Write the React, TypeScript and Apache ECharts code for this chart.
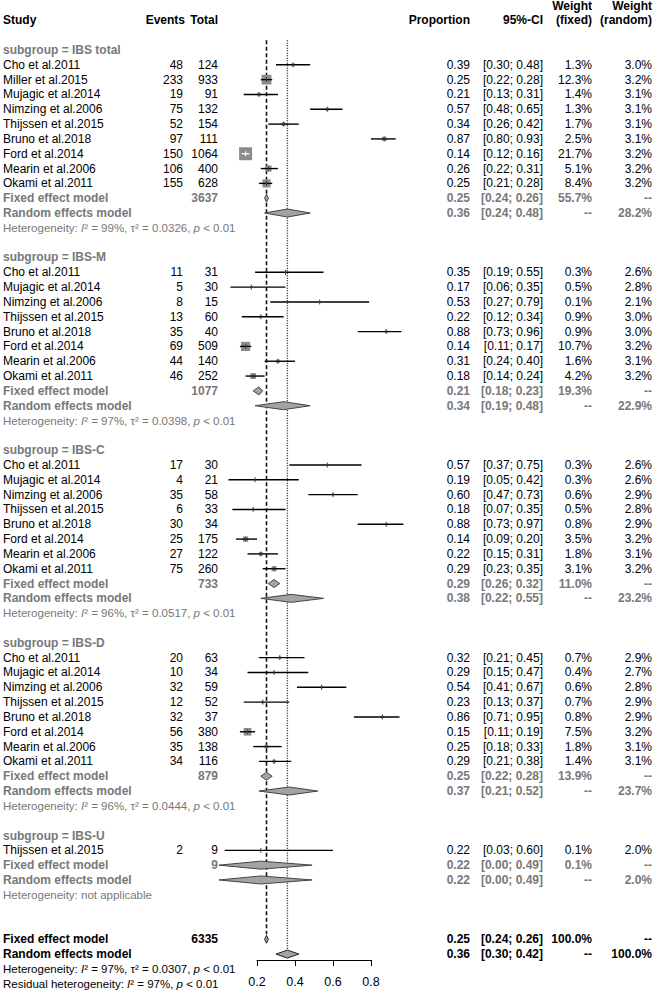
import React, { useEffect, useRef } from "react";
import * as echarts from "echarts";

// ---------------- data ----------------
const subgroupNames = ["IBS total", "IBS-M", "IBS-C", "IBS-D", "IBS-U"];

const studiesAll = ["Cho et al.2011", "Miller et al.2015", "Mujagic et al.2014", "Nimzing et al.2006", "Thijssen et al.2015", "Bruno et al.2018", "Ford et al.2014", "Mearin et al.2006", "Okami et al.2011"];
const studiesSub = ["Cho et al.2011", "Mujagic et al.2014", "Nimzing et al.2006", "Thijssen et al.2015", "Bruno et al.2018", "Ford et al.2014", "Mearin et al.2006", "Okami et al.2011"];
const studiesU = ["Thijssen et al.2015"];

// IBS total
const eventsT = [48, 233, 19, 75, 52, 97, 150, 106, 155];
const totalT = [124, 933, 91, 132, 154, 111, 1064, 400, 628];
const propT = [0.39, 0.25, 0.21, 0.57, 0.34, 0.87, 0.14, 0.26, 0.25];
const loT = [0.30, 0.22, 0.13, 0.48, 0.26, 0.80, 0.12, 0.22, 0.21];
const hiT = [0.48, 0.28, 0.31, 0.65, 0.42, 0.93, 0.16, 0.31, 0.28];
const wfT = [1.3, 12.3, 1.4, 1.3, 1.7, 2.5, 21.7, 5.1, 8.4];
const wrT = [3.0, 3.2, 3.1, 3.1, 3.1, 3.1, 3.2, 3.2, 3.2];

// IBS-M
const eventsM = [11, 5, 8, 13, 35, 69, 44, 46];
const totalM = [31, 30, 15, 60, 40, 509, 140, 252];
const propM = [0.35, 0.17, 0.53, 0.22, 0.88, 0.14, 0.31, 0.18];
const loM = [0.19, 0.06, 0.27, 0.12, 0.73, 0.11, 0.24, 0.14];
const hiM = [0.55, 0.35, 0.79, 0.34, 0.96, 0.17, 0.40, 0.24];
const wfM = [0.3, 0.5, 0.1, 0.9, 0.9, 10.7, 1.6, 4.2];
const wrM = [2.6, 2.8, 2.1, 3.0, 3.0, 3.2, 3.1, 3.2];

// IBS-C
const eventsC = [17, 4, 35, 6, 30, 25, 27, 75];
const totalC = [30, 21, 58, 33, 34, 175, 122, 260];
const propC = [0.57, 0.19, 0.60, 0.18, 0.88, 0.14, 0.22, 0.29];
const loC = [0.37, 0.05, 0.47, 0.07, 0.73, 0.09, 0.15, 0.23];
const hiC = [0.75, 0.42, 0.73, 0.35, 0.97, 0.20, 0.31, 0.35];
const wfC = [0.3, 0.3, 0.6, 0.5, 0.8, 3.5, 1.8, 3.1];
const wrC = [2.6, 2.6, 2.9, 2.8, 2.9, 3.2, 3.1, 3.2];

// IBS-D
const eventsD = [20, 10, 32, 12, 32, 56, 35, 34];
const totalD = [63, 34, 59, 52, 37, 380, 138, 116];
const propD = [0.32, 0.29, 0.54, 0.23, 0.86, 0.15, 0.25, 0.29];
const loD = [0.21, 0.15, 0.41, 0.13, 0.71, 0.11, 0.18, 0.21];
const hiD = [0.45, 0.47, 0.67, 0.37, 0.95, 0.19, 0.33, 0.38];
const wfD = [0.7, 0.4, 0.6, 0.7, 0.8, 7.5, 1.8, 1.4];
const wrD = [2.9, 2.7, 2.8, 2.9, 2.9, 3.2, 3.1, 3.1];

// IBS-U
const eventsU = [2];
const totalU = [9];
const propU = [0.22];
const loU = [0.03];
const hiU = [0.60];
const wfU = [0.1];
const wrU = [2.0];

// subgroup summaries
const fixedN = [3637, 1077, 733, 879, 9];
const fixedEst = [0.25, 0.21, 0.29, 0.25, 0.22];
const fixedLo = [0.24, 0.18, 0.26, 0.22, 0.00];
const fixedHi = [0.26, 0.23, 0.32, 0.28, 0.49];
const fixedW = [55.7, 19.3, 11.0, 13.9, 0.1];
const randEst = [0.36, 0.34, 0.38, 0.37, 0.22];
const randLo = [0.24, 0.19, 0.22, 0.21, 0.00];
const randHi = [0.48, 0.48, 0.55, 0.52, 0.49];
const randW = [28.2, 22.9, 23.2, 23.7, 2.0];
const hetI2 = ["99%", "97%", "96%", "96%", ""];
const hetTau2 = ["0.0326", "0.0398", "0.0517", "0.0444", ""];

// overall
const overallN = 6335;
const overallFixed = [0.25, 0.24, 0.26];
const overallRandom = [0.36, 0.30, 0.42];
const overallI2 = "97%";
const overallTau2 = "0.0307";
const residualI2 = "97%";

const xTicks = [0.2, 0.4, 0.6, 0.8];

// ---------------- layout / style ----------------
const FONT = "'Liberation Sans', Arial, Helvetica, sans-serif";
const GRAY = "#787878";
const COL = { study: 3, events: 183, total: 218, prop: 470, ci: 543, wf: 592, wr: 652 };
const HET_SIZE = 11.5;

type TextItem = { row: number; x: number; text: string; align: string; color: string; bold?: boolean; size?: number; rich?: boolean };

const groups = [
  { names: studiesAll, ev: eventsT, n: totalT, p: propT, lo: loT, hi: hiT, wf: wfT, wr: wrT },
  { names: studiesSub, ev: eventsM, n: totalM, p: propM, lo: loM, hi: hiM, wf: wfM, wr: wrM },
  { names: studiesSub, ev: eventsC, n: totalC, p: propC, lo: loC, hi: hiC, wf: wfC, wr: wrC },
  { names: studiesSub, ev: eventsD, n: totalD, p: propD, lo: loD, hi: hiD, wf: wfD, wr: wrD },
  { names: studiesU, ev: eventsU, n: totalU, p: propU, lo: loU, hi: hiU, wf: wfU, wr: wrU },
];

const f2 = (v: number) => v.toFixed(2);
const ci = (a: number, b: number) => `[${f2(a)}; ${f2(b)}]`;
const pct = (v: number) => `${v.toFixed(1)}%`;

const texts: TextItem[] = [];
const studyMarks: number[][] = []; // [est,row,lo,hi,wf]
const diamonds: number[][] = []; // [est,row,lo,hi,kind]

function addText(row: number, x: number, text: string, align: string, color = "#000", bold = false, size = 12, rich = false) {
  texts.push({ row, x, text, align, color, bold, size, rich });
}

// header
addText(-2, COL.study, "Study", "left", "#000", true);
addText(-2, COL.events + 2, "Events", "right", "#000", true);
addText(-2, COL.total, "Total", "right", "#000", true);
addText(-2, COL.prop, "Proportion", "right", "#000", true);
addText(-2, COL.ci, "95%-CI", "right", "#000", true);
addText(-3, COL.wf, "Weight", "right", "#000", true);
addText(-2, COL.wf, "(fixed)", "right", "#000", true);
addText(-3, COL.wr, "Weight", "right", "#000", true);
addText(-2, COL.wr, "(random)", "right", "#000", true);

let row = 0;
groups.forEach((g, gi) => {
  addText(row, COL.study, `subgroup = ${subgroupNames[gi]}`, "left", GRAY, true);
  row++;
  g.names.forEach((nm, i) => {
    addText(row, COL.study, nm, "left");
    addText(row, COL.events, String(g.ev[i]), "right");
    addText(row, COL.total, String(g.n[i]), "right");
    addText(row, COL.prop, f2(g.p[i]), "right");
    addText(row, COL.ci, ci(g.lo[i], g.hi[i]), "right");
    addText(row, COL.wf, pct(g.wf[i]), "right");
    addText(row, COL.wr, pct(g.wr[i]), "right");
    studyMarks.push([g.p[i], row, g.lo[i], g.hi[i], g.wf[i]]);
    row++;
  });
  // fixed
  addText(row, COL.study, "Fixed effect model", "left", GRAY, true);
  addText(row, COL.total, String(fixedN[gi]), "right", GRAY, true);
  addText(row, COL.prop, f2(fixedEst[gi]), "right", GRAY, true);
  addText(row, COL.ci, ci(fixedLo[gi], fixedHi[gi]), "right", GRAY, true);
  addText(row, COL.wf, pct(fixedW[gi]), "right", GRAY, true);
  addText(row, COL.wr, "--", "right", GRAY, true);
  diamonds.push([fixedEst[gi], row, fixedLo[gi], fixedHi[gi], 0]);
  row++;
  // random
  addText(row, COL.study, "Random effects model", "left", GRAY, true);
  addText(row, COL.prop, f2(randEst[gi]), "right", GRAY, true);
  addText(row, COL.ci, ci(randLo[gi], randHi[gi]), "right", GRAY, true);
  addText(row, COL.wf, "--", "right", GRAY, true);
  addText(row, COL.wr, pct(randW[gi]), "right", GRAY, true);
  diamonds.push([randEst[gi], row, randLo[gi], randHi[gi], 0]);
  row++;
  // heterogeneity
  if (hetI2[gi]) {
    addText(row, COL.study, `Heterogeneity: {it|I}² = ${hetI2[gi]}, τ² = ${hetTau2[gi]}, {it|p} < 0.01`, "left", GRAY, false, HET_SIZE, true);
  } else {
    addText(row, COL.study, "Heterogeneity: not applicable", "left", GRAY, false, HET_SIZE);
  }
  row += gi === groups.length - 1 ? 3 : 2;
});

const overallFixedRow = row;
addText(row, COL.study, "Fixed effect model", "left", "#000", true);
addText(row, COL.total, String(overallN), "right", "#000", true);
addText(row, COL.prop, f2(overallFixed[0]), "right", "#000", true);
addText(row, COL.ci, ci(overallFixed[1], overallFixed[2]), "right", "#000", true);
addText(row, COL.wf, "100.0%", "right", "#000", true);
addText(row, COL.wr, "--", "right", "#000", true);
diamonds.push([overallFixed[0], row, overallFixed[1], overallFixed[2], 1]);
row++;
const overallRandomRow = row;
addText(row, COL.study, "Random effects model", "left", "#000", true);
addText(row, COL.prop, f2(overallRandom[0]), "right", "#000", true);
addText(row, COL.ci, ci(overallRandom[1], overallRandom[2]), "right", "#000", true);
addText(row, COL.wf, "--", "right", "#000", true);
addText(row, COL.wr, "100.0%", "right", "#000", true);
diamonds.push([overallRandom[0], row, overallRandom[1], overallRandom[2], 1]);
row++;
addText(row, COL.study, `Heterogeneity: {it|I}² = ${overallI2}, τ² = ${overallTau2}, {it|p} < 0.01`, "left", "#000", false, HET_SIZE, true);
row++;
addText(row, COL.study, `Residual heterogeneity: {it|I}² = ${residualI2}, {it|p} < 0.01`, "left", "#000", false, HET_SIZE, true);

const refLines = [
  [overallFixed[0], -0.65, overallFixedRow, 0],
  [overallRandom[0], -0.65, overallRandomRow, 1],
];

const DIAMOND_H = 4;

export default function App() {
  const ref = useRef<HTMLDivElement>(null);
  useEffect(() => {
    if (!ref.current) return;
    const chart = echarts.init(ref.current, undefined, { renderer: "svg" });
    const option: any = {
      animation: false,
      backgroundColor: "#fff",
      grid: { left: 257, right: 283, top: 50, bottom: 31 },
      xAxis: {
        type: "value",
        min: 0.2,
        max: 0.8,
        interval: 0.2,
        splitLine: { show: false },
        axisLine: { show: true, onZero: false, lineStyle: { color: "#000", width: 1 } },
        axisTick: { show: true, length: 6, lineStyle: { color: "#000", width: 1 } },
        axisLabel: {
          color: "#000",
          fontSize: 12.5,
          fontFamily: FONT,
          margin: 15,
          formatter: (v: number) => (xTicks.some((t) => Math.abs(t - v) < 1e-9) ? v.toFixed(1) : ""),
        },
      },
      yAxis: { type: "value", inverse: true, min: 0, max: 61.4, show: false },
      series: [
        {
          type: "custom",
          clip: false,
          silent: true,
          data: refLines,
          renderItem: (params: any, api: any) => {
            const x = api.coord([api.value(0), api.value(1)])[0];
            const y1 = api.coord([api.value(0), api.value(1)])[1];
            const y2 = api.coord([api.value(0), api.value(2)])[1] - DIAMOND_H - 1;
            const dotted = api.value(3) === 1;
            return {
              type: "line",
              shape: { x1: x, y1, x2: x, y2 },
              style: {
                stroke: dotted ? "#222" : "#111",
                lineWidth: dotted ? 1.4 : 1.6,
                lineDash: dotted ? [1, 1.5] : [4, 2.5],
              },
            };
          },
        },
        {
          type: "custom",
          clip: false,
          silent: true,
          data: studyMarks,
          renderItem: (params: any, api: any) => {
            const r = api.value(1);
            const c = api.coord([api.value(0), r]);
            const l = api.coord([api.value(2), r]);
            const h = api.coord([api.value(3), r]);
            const s = Math.max(2.79 * Math.sqrt(api.value(4)), 1);
            const inside = h[0] - l[0] <= s;
            const col = inside ? "#fff" : "#000";
            return {
              type: "group",
              children: [
                { type: "rect", shape: { x: c[0] - s / 2, y: c[1] - s / 2, width: s, height: s }, style: { fill: "#8c8c8c" } },
                { type: "line", shape: { x1: l[0], y1: c[1], x2: h[0], y2: c[1] }, style: { stroke: col, lineWidth: 1.4 } },
                { type: "line", shape: { x1: c[0], y1: c[1] - 2.5, x2: c[0], y2: c[1] + 2.5 }, style: { stroke: inside ? "#fff" : "#444", lineWidth: 1 } },
              ],
            };
          },
        },
        {
          type: "custom",
          clip: false,
          silent: true,
          data: diamonds,
          renderItem: (params: any, api: any) => {
            const r = api.value(1);
            const c = api.coord([api.value(0), r]);
            const l = api.coord([api.value(2), r]);
            const h = api.coord([api.value(3), r]);
            const overall = api.value(4) === 1;
            return {
              type: "polygon",
              shape: {
                points: [
                  [l[0], c[1]],
                  [c[0], c[1] - DIAMOND_H],
                  [h[0], c[1]],
                  [c[0], c[1] + DIAMOND_H],
                ],
              },
              style: { fill: "#a3a3a3", stroke: overall ? "#222" : "#444", lineWidth: 1 },
            };
          },
        },
        {
          type: "custom",
          clip: false,
          silent: true,
          data: texts.map((t) => [0.5, t.row]),
          renderItem: (params: any, api: any) => {
            const t = texts[params.dataIndex];
            const y = api.coord([0.5, api.value(1)])[1];
            const style: any = {
              text: t.text,
              x: t.x,
              y,
              fill: t.color,
              fontSize: t.size,
              fontFamily: FONT,
              fontWeight: t.bold ? "bold" : "normal",
              align: t.align,
              verticalAlign: "middle",
              textAlign: t.align,
              textVerticalAlign: "middle",
            };
            if (t.rich) {
              style.rich = {
                it: { fontSize: t.size, fontFamily: FONT, fontStyle: "italic", fill: t.color },
              };
            }
            return { type: "text", style };
          },
        },
      ],
    };
    chart.setOption(option);
    return () => chart.dispose();
  }, []);
  return <div ref={ref} style={{ position: "absolute", left: 0, top: 0, width: 654, height: 991, background: "#fff" }} />;
}
